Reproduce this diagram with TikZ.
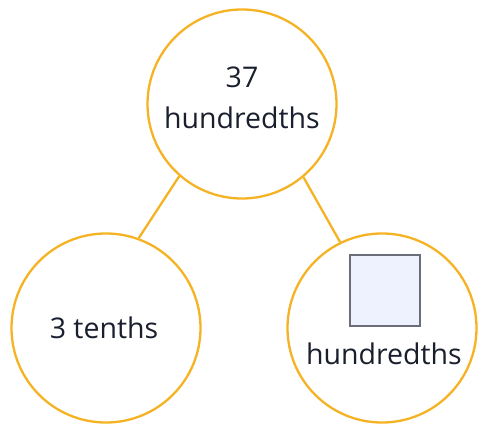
\documentclass[tikz,border=0pt]{standalone}
\usepackage{fontspec}
\setmainfont{Open Sans}
\definecolor{ring}{HTML}{F5B324}
\definecolor{ink}{HTML}{1A1F2E}
\definecolor{boxfill}{HTML}{EEF2FF}
\definecolor{boxline}{HTML}{6B6E78}
\begin{document}
\begin{tikzpicture}[x=1pt,y=-1pt,
  bubble/.style={circle,draw=ring,line width=2.3pt,minimum size=189pt,inner sep=0pt},
  link/.style={draw=ring,line width=2.3pt},
  lbl/.style={text=ink,font=\fontsize{28.5}{32}\selectfont,inner sep=0pt}]
\useasboundingbox (0,0) rectangle (479,427);
\node[bubble] (top) at (242,104) {};
\node[bubble] (left) at (106,328) {};
\node[bubble] (right) at (382,328) {};
\node[lbl] (t1) at (242,77) {37};
\node[lbl] (t2) at (242,118) {hundredths};
\node[lbl] (l1) at (104,328) {3 tenths};
\node[draw=boxline,fill=boxfill,line width=2pt,minimum width=70pt,minimum height=71pt,inner sep=0pt] (box) at (384.5,291) {};
\node[lbl] (r1) at (384,354) {hundredths};
\draw[link] (top.229) -- (left.70);
\draw[link] (top.310) -- (right.116);
\end{tikzpicture}
\end{document}
